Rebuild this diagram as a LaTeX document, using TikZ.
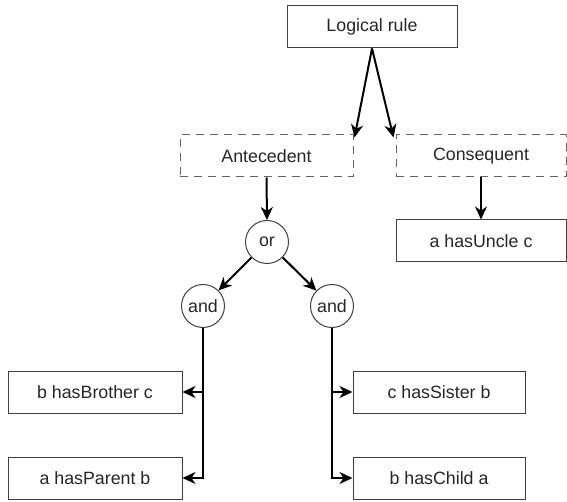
\documentclass[tikz,border=0pt]{standalone}
\usepackage{fontspec}
\setmainfont{Liberation Sans}
\usetikzlibrary{arrows.meta}
\begin{document}
\begin{tikzpicture}[x=1pt,y=-1pt,
  every node/.style={font=\fontsize{17.8}{20}\selectfont, text=black!85},
  box/.style={draw=black!75, line width=1pt, minimum height=42pt, inner sep=0pt},
  dbox/.style={draw=black!60, line width=1pt, dash pattern=on 8pt off 6pt, minimum height=42pt, inner sep=0pt},
  op/.style={circle, draw=black!75, line width=1pt, minimum size=43pt, inner sep=0pt},
  arr/.style={draw=black, line width=2pt, -{Stealth[length=13pt,width=12pt,inset=4pt]}}]
\useasboundingbox (0,0) rectangle (567,502);
\node[box, minimum width=170pt] (rule) at (372,27) {Logical rule};
\node[dbox, minimum width=173pt] (ante) at (266.5,156) {Antecedent};
\node[dbox, minimum width=170pt] (cons) at (481,156) {Consequent};
\node[box, minimum width=170pt] (uncle) at (481,241) {a hasUncle c};
\node[op] (or) at (267,242) {or};
\node[op] (andL) at (203,306) {and};
\node[op] (andR) at (332,306) {and};
\node[box, minimum width=174pt] (brother) at (95,392) {b hasBrother c};
\node[box, minimum width=174pt] (parent) at (95,478) {a hasParent b};
\node[box, minimum width=172pt] (sister) at (439,392) {c hasSister b};
\node[box, minimum width=172pt] (child) at (439,478) {b hasChild a};
\coordinate (rs) at (rule.south);
\draw[arr] (rs) -- ([xshift=1pt,yshift=-3pt]ante.north east);
\draw[arr] (rs) -- ([xshift=-2pt,yshift=-3pt]cons.north west);
\draw[arr] (ante.south) -- (or.north);
\draw[arr] (cons.south) -- (uncle.north);
\draw[arr] (or) -- (andL);
\draw[arr] (or) -- (andR);
\draw[arr] (andL.south) |- (parent.east);
\draw[arr] (andL.south |- brother.east) -- (brother.east);
\draw[arr] (andR.south) |- (child.west);
\draw[arr] (andR.south |- sister.west) -- (sister.west);
\end{tikzpicture}
\end{document}
